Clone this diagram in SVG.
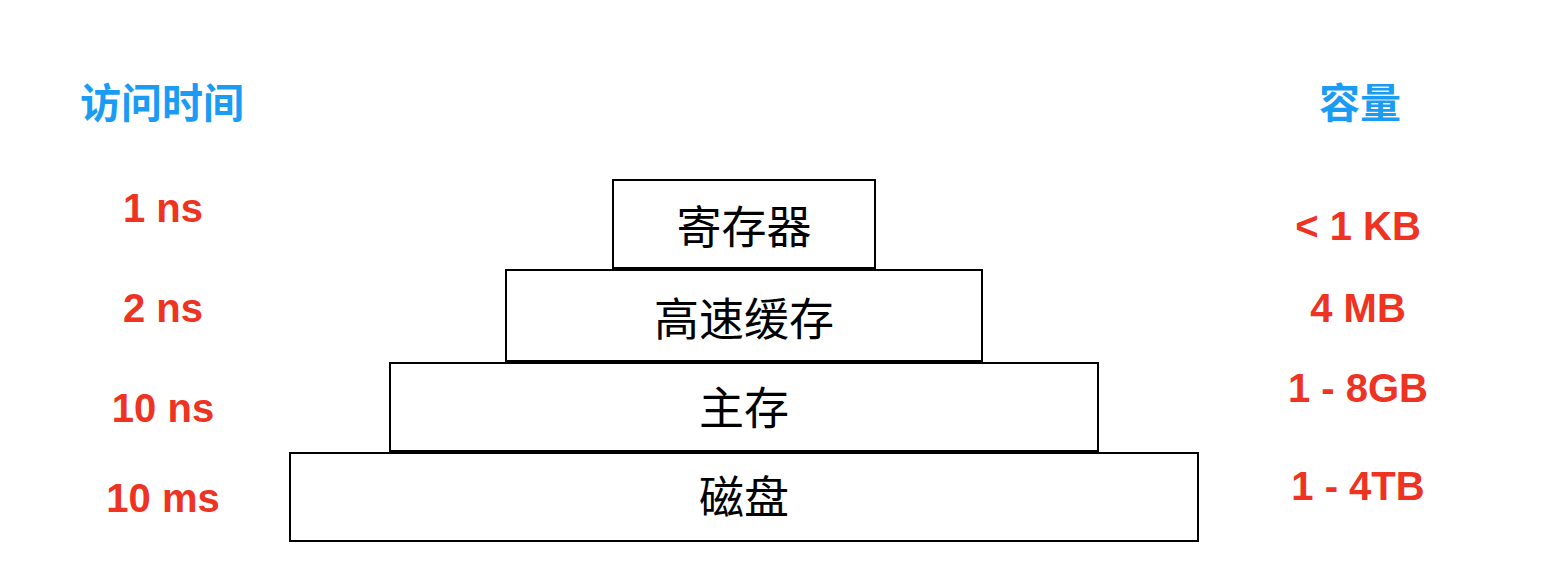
<svg xmlns="http://www.w3.org/2000/svg" width="1552" height="584" viewBox="0 0 1552 584">
<style>
.box{fill:#fff;stroke:#000;stroke-width:2}
.lbl{font-family:"Noto Sans CJK SC",sans-serif;font-size:45px;fill:#000;text-anchor:middle;dominant-baseline:central}
.hd{font-family:"Noto Sans CJK SC",sans-serif;font-size:41px;font-weight:bold;fill:#1a9cf5;text-anchor:middle;dominant-baseline:central}
.v{font-family:"Liberation Sans",Arial,sans-serif;font-size:40px;font-weight:bold;fill:#ee3322;text-anchor:middle;dominant-baseline:central}
</style>
<rect width="1552" height="584" fill="#fff"/>
<text class="hd" x="162" y="100">访问时间</text>
<text class="hd" x="1360" y="100">容量</text>
<g id="reg"><rect class="box" x="613" y="180" width="262" height="88"/><text class="lbl" x="744" y="224">寄存器</text></g>
<g id="cache"><rect class="box" x="506" y="270" width="476" height="91"/><text class="lbl" x="744" y="316">高速缓存</text></g>
<g id="mem"><rect class="box" x="390" y="363" width="708" height="88"/><text class="lbl" x="744" y="405">主存</text></g>
<g id="disk"><rect class="box" x="290" y="453" width="908" height="88"/><text class="lbl" x="744" y="494">磁盘</text></g>
<g id="connectors"/>
<text class="v" x="163" y="208">1 ns</text>
<text class="v" x="163" y="308">2 ns</text>
<text class="v" x="163" y="408">10 ns</text>
<text class="v" x="163" y="498">10 ms</text>
<text class="v" x="1358" y="226">&lt; 1 KB</text>
<text class="v" x="1358" y="308">4 MB</text>
<text class="v" x="1358" y="388">1 - 8GB</text>
<text class="v" x="1358" y="486">1 - 4TB</text>
</svg>
